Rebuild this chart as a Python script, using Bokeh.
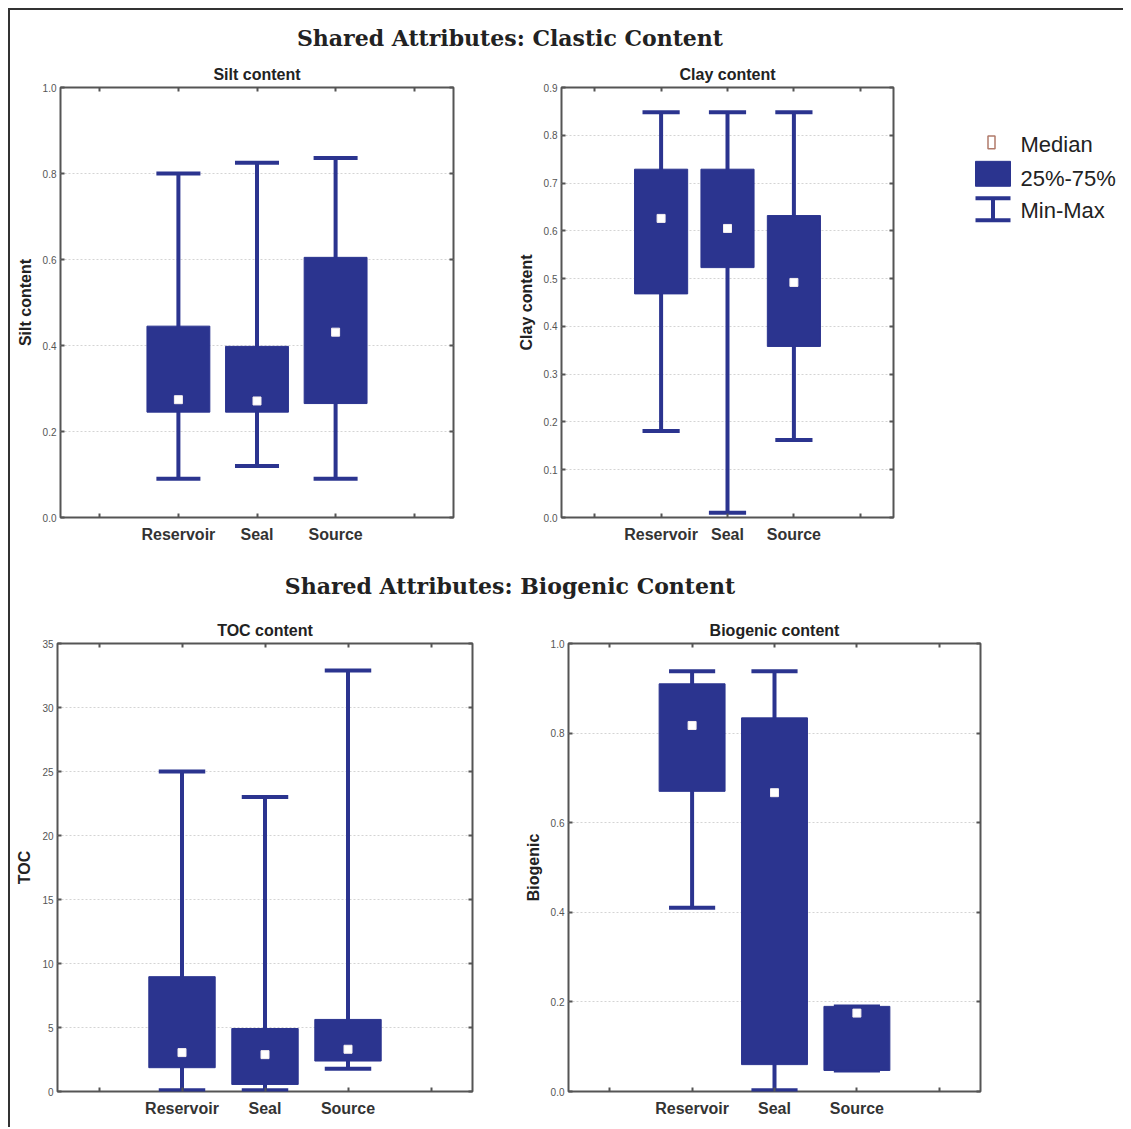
from bokeh.plotting import figure
from bokeh.models import Range1d, FixedTicker, LinearAxis, Div, ColumnDataSource, PrintfTickFormatter
from bokeh.layouts import row, column
from bokeh.embed import file_html
from bokeh.resources import INLINE
from bokeh.core.properties import value

# ---------------- data ----------------
groups = ["Reservoir", "Seal", "Source"]
group_pos = [2, 3, 4]

silt_min = [0.09, 0.12, 0.09]
silt_q1 = [0.245, 0.245, 0.265]
silt_med = [0.274, 0.271, 0.431]
silt_q3 = [0.445, 0.398, 0.605]
silt_max = [0.80, 0.825, 0.836]

clay_min = [0.181, 0.01, 0.162]
clay_q1 = [0.468, 0.523, 0.358]
clay_med = [0.626, 0.605, 0.492]
clay_q3 = [0.729, 0.729, 0.632]
clay_max = [0.848, 0.848, 0.848]

toc_min = [0.1, 0.1, 1.78]
toc_q1 = [1.86, 0.55, 2.38]
toc_med = [3.04, 2.88, 3.3]
toc_q3 = [8.97, 4.92, 5.63]
toc_max = [25.0, 23.0, 32.9]

bio_min = [0.41, 0.003, 0.047]
bio_q1 = [0.670, 0.060, 0.047]
bio_med = [0.817, 0.667, 0.175]
bio_q3 = [0.910, 0.834, 0.190]
bio_max = [0.938, 0.938, 0.190]

silt_ticks = [0.0, 0.2, 0.4, 0.6, 0.8, 1.0]
clay_ticks = [0.0, 0.1, 0.2, 0.3, 0.4, 0.5, 0.6, 0.7, 0.8, 0.9]
toc_ticks = [0, 5, 10, 15, 20, 25, 30, 35]
bio_ticks = [0.0, 0.2, 0.4, 0.6, 0.8, 1.0]

legend_labels = ["Median", "25%-75%", "Min-Max"]

main_title_1 = "Shared Attributes: Clastic Content"
main_title_2 = "Shared Attributes: Biogenic Content"

# ---------------- style ----------------
BLUE = "#2b348f"
FRAME = "#555555"
SANS = "Liberation Sans"
BOX_W = 0.8
CAP_W = 0.56


def blank(ticks):
    return {t: "" for t in ticks}


def panel(title, ylabel, ticks, fmt, mn, q1, med, q3, mx, width, height, bl, br, bt, bb):
    p = figure(width=width, height=height, output_backend="svg", toolbar_location=None,
               x_range=Range1d(0.5, 5.5), y_range=Range1d(ticks[0], ticks[-1]),
               min_border_left=bl, min_border_right=br, min_border_top=bt, min_border_bottom=bb,
               title=title)
    p.title.align = "center"
    p.title.text_font = SANS
    p.title.text_font_style = "bold"
    p.title.text_font_size = "16px"
    p.title.text_color = "#222222"
    p.title.standoff = 10
    p.outline_line_color = FRAME
    p.outline_line_width = 2
    p.background_fill_color = "white"
    p.border_fill_color = "white"

    src = ColumnDataSource(dict(
        x=group_pos, mn=mn, q1=q1, med=med, q3=q3, mx=mx,
        cl=[g - CAP_W / 2 for g in group_pos], cr=[g + CAP_W / 2 for g in group_pos]))
    p.segment(x0="x", y0="mn", x1="x", y1="mx", source=src, line_color=BLUE, line_width=4)
    p.segment(x0="cl", y0="mn", x1="cr", y1="mn", source=src, line_color=BLUE, line_width=4)
    p.segment(x0="cl", y0="mx", x1="cr", y1="mx", source=src, line_color=BLUE, line_width=4)
    p.vbar(x="x", width=BOX_W, bottom="q1", top="q3", source=src,
           fill_color=BLUE, line_color=BLUE, line_width=1)
    p.scatter(x="x", y="med", source=src, marker="square", size=8,
              fill_color="white", line_color="#f4eeee", line_width=1)

    xticks = [1, 2, 3, 4, 5]
    xt = FixedTicker(ticks=xticks)
    yt = FixedTicker(ticks=ticks)
    p.xaxis.ticker = xt
    p.yaxis.ticker = yt
    p.xaxis.major_label_overrides = {1: "", 2: groups[0], 3: groups[1], 4: groups[2], 5: ""}
    p.xaxis.major_label_text_font = SANS
    p.xaxis.major_label_text_font_style = "bold"
    p.xaxis.major_label_text_font_size = "16px"
    p.xaxis.major_label_text_color = "#333333"
    p.xaxis.major_label_standoff = 8
    p.yaxis.formatter = PrintfTickFormatter(format=fmt)
    p.yaxis.major_label_text_font = SANS
    p.yaxis.major_label_text_font_size = "10px"
    p.yaxis.major_label_text_color = "#555555"
    p.yaxis.major_label_standoff = 4
    p.yaxis.axis_label = ylabel
    p.yaxis.axis_label_text_font = SANS
    p.yaxis.axis_label_text_font_style = "bold"
    p.yaxis.axis_label_text_font_size = "16px"
    p.yaxis.axis_label_text_color = "#222222"
    p.yaxis.axis_label_standoff = 6
    for ax in (p.xaxis[0], p.yaxis[0]):
        ax.axis_line_color = None
        ax.major_tick_in = 4
        ax.major_tick_out = 0
        ax.major_tick_line_color = FRAME
        ax.major_tick_line_width = 2
        ax.minor_tick_line_color = None
    top = LinearAxis(ticker=xt, major_label_overrides=blank(xticks), major_label_standoff=0,
                     major_label_text_font_size="1px",
                     axis_line_color=None, major_tick_in=4, major_tick_out=0,
                     major_tick_line_color=FRAME, major_tick_line_width=2, minor_tick_line_color=None)
    right = LinearAxis(ticker=yt, major_label_overrides=blank(ticks), major_label_standoff=0,
                       major_label_text_font_size="1px",
                       axis_line_color=None, major_tick_in=4, major_tick_out=0,
                       major_tick_line_color=FRAME, major_tick_line_width=2, minor_tick_line_color=None)
    p.add_layout(top, "above")
    p.add_layout(right, "right")
    p.xgrid.grid_line_color = None
    p.ygrid.ticker = yt
    p.ygrid.grid_line_color = "#d4d4d4"
    p.ygrid.grid_line_dash = "2 2"
    return p


p1 = panel("Silt content", "Silt content", silt_ticks, "%.1f",
           silt_min, silt_q1, silt_med, silt_q3, silt_max, 495, 503, 50, 52, 35, 38)
p2 = panel("Clay content", "Clay content", clay_ticks, "%.1f",
           clay_min, clay_q1, clay_med, clay_q3, clay_max, 455, 503, 56, 67, 34, 38)
p3 = panel("TOC content", "TOC", toc_ticks, "%d",
           toc_min, toc_q1, toc_med, toc_q3, toc_max, 505, 522, 47, 43, 38, 36)
p4 = panel("Biogenic content", "Biogenic", bio_ticks, "%.1f",
           bio_min, bio_q1, bio_med, bio_q3, bio_max, 608, 522, 53, 143, 38, 36)

# ---------------- legend (drawn in its own pixel-space figure, frame aligned with p2) ----------------
LW, LFH = 163, 431
lg = figure(width=LW, height=503, output_backend="svg", toolbar_location=None,
            x_range=Range1d(0, LW), y_range=Range1d(LFH, 0),
            min_border_left=0, min_border_right=0, min_border_top=34, min_border_bottom=38,
            x_axis_location=None, y_axis_location=None, title=None)
lg.grid.visible = False
lg.outline_line_color = None
lg.rect(x=[31], y=[55], width=7, height=13, fill_color=None, line_color="#b07a6a", line_width=1.5)
lg.quad(left=[15], right=[50], top=[74], bottom=[99], fill_color=BLUE, line_color=BLUE)
lg.segment(x0=[15, 15, 32.5], y0=[111, 133, 111], x1=[50, 50, 32.5], y1=[111, 133, 133],
           line_color=BLUE, line_width=4)
lg.text(x=[60, 60, 60], y=[57, 91, 123], text=legend_labels, text_font=value(SANS),
        text_font_size="22px", text_color="#222222", text_baseline="middle")

# ---------------- titles & frame ----------------
def title_div(txt, h, mt):
    return Div(text=f'<div style="width:1000px;text-align:center;margin-top:{mt}px;'
                    f'font-family:\'DejaVu Serif\';font-weight:bold;font-size:22px;color:#222">{txt}</div>',
               width=1113, height=h, margin=0)

t1 = title_div(main_title_1, 42, 13)
t2 = title_div(main_title_2, 50, 16)

content = column(t1, row(p1, p2, lg), t2, row(p3, p4))
top_line = Div(text="", width=1115, height=2, margin=0, styles={"background-color": "#333"})
left_line = Div(text="", width=2, height=1117, margin=0, styles={"background-color": "#333"})
layout = column(top_line, row(left_line, content), margin=(8, 0, 0, 8))

open("out.html", "w").write(file_html(layout, INLINE))
